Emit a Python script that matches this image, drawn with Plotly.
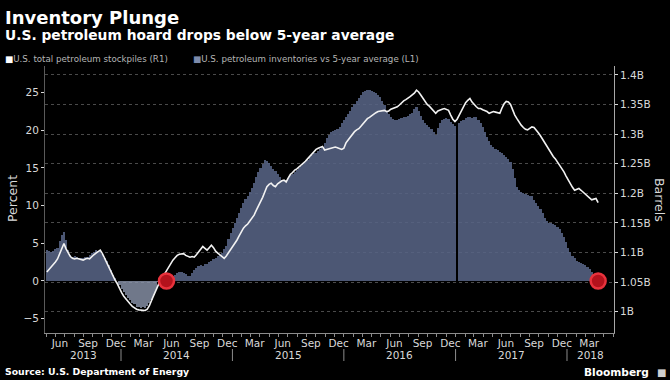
import pandas as pd
import plotly.graph_objects as go

# ---------------- data ----------------
week_start = "2013-05-03"  # first weekly observation (Fridays)

# U.S. petroleum inventories vs 5-year average, percent (left axis, bars)
inventory_vs_avg_pct = [
    4.1, 4.0, 3.9, 4.0, 4.2, 4.4, 5.3, 6.1, 6.5, 5.4,
    4.1, 3.5, 3.2, 3.3, 3.2, 3.1, 3.0, 3.1, 3.2, 3.2,
    3.5, 3.7, 3.9, 4.1, 4.0, 4.1, 3.6, 3.0, 2.6, 2.1,
    1.4, 0.8, 0.4, 0.0, -0.6, -1.1, -1.5, -1.9, -2.3, -2.5,
    -2.9, -3.1, -3.4, -3.5, -3.6, -3.5, -3.6, -3.3, -2.9, -2.5,
    -1.8, -1.2, -0.2, 0.1, 0.2, 0.3, 0.3, 0.4, 0.5, 0.7,
    0.8, 1.0, 1.2, 1.2, 1.1, 0.9, 0.7, 0.6, 1.0, 1.4,
    1.7, 2.0, 2.1, 2.0, 2.2, 2.3, 2.5, 2.7, 2.9, 3.1,
    3.3, 3.5, 3.7, 4.2, 4.7, 5.5, 6.3, 7.0, 7.7, 8.3,
    9.0, 9.7, 10.3, 10.9, 11.3, 11.8, 12.3, 13.0, 13.8, 14.4,
    15.0, 15.5, 16.0, 15.9, 15.6, 15.3, 14.9, 14.6, 14.2, 13.8,
    13.4, 13.3, 13.4, 13.7, 14.0, 14.2, 14.5, 14.7, 15.0, 15.3,
    15.6, 15.8, 16.1, 16.4, 16.7, 16.9, 17.0, 17.2, 17.5, 17.7,
    18.3, 18.9, 19.4, 19.8, 19.9, 20.0, 20.1, 20.4, 20.9, 21.3,
    21.8, 22.2, 22.6, 23.0, 23.4, 23.8, 24.2, 24.7, 25.1, 25.2,
    25.3, 25.3, 25.2, 25.1, 24.9, 24.7, 24.4, 23.9, 23.3, 22.6,
    22.1, 21.7, 21.5, 21.4, 21.4, 21.5, 21.6, 21.7, 21.8, 21.9,
    22.1, 22.3, 22.8, 23.0, 22.6, 21.9, 21.3, 21.0, 20.7, 20.4,
    20.1, 19.7, 19.4, 20.3, 21.0, 21.4, 21.5, 21.6, 21.5, 21.1,
    20.8, 20.5, 0.0, 20.9, 21.2, 21.4, 21.6, 21.8, 21.8, 21.6,
    21.7, 21.7, 21.4, 21.0, 20.4, 19.8, 19.1, 18.5, 18.0, 17.8,
    17.5, 17.3, 17.1, 16.9, 16.7, 16.5, 16.2, 15.8, 14.9, 13.6,
    12.5, 12.1, 11.8, 11.6, 11.5, 11.4, 11.3, 11.2, 10.8, 10.4,
    9.9, 9.5, 9.0, 8.4, 7.9, 7.7, 7.7, 7.6, 7.4, 7.2,
    6.9, 6.4, 5.8, 5.1, 4.4, 3.8, 3.3, 3.0, 2.7, 2.5,
    2.4, 2.3, 2.1, 1.9, 1.6, 1.2, 0.7, 0.2, -0.2,
]

# U.S. total petroleum stockpiles, billion barrels (right axis, line)
total_stockpiles_bn = [
    1.067, 1.071, 1.075, 1.079, 1.084, 1.089, 1.097, 1.104, 1.115, 1.106,
    1.098, 1.093, 1.090, 1.089, 1.090, 1.089, 1.088, 1.087, 1.089, 1.090,
    1.089, 1.093, 1.096, 1.099, 1.102, 1.104, 1.098, 1.090, 1.082, 1.074,
    1.066, 1.059, 1.053, 1.047, 1.038, 1.032, 1.026, 1.021, 1.017, 1.013,
    1.009, 1.006, 1.004, 1.003, 1.003, 1.002, 1.002, 1.004, 1.010, 1.019,
    1.028, 1.037, 1.046, 1.052, 1.057, 1.063, 1.070, 1.077, 1.082, 1.087,
    1.091, 1.095, 1.097, 1.098, 1.098, 1.095, 1.093, 1.092, 1.093, 1.092,
    1.096, 1.101, 1.105, 1.110, 1.107, 1.104, 1.108, 1.112, 1.108, 1.102,
    1.099, 1.096, 1.093, 1.090, 1.094, 1.099, 1.104, 1.109, 1.115, 1.121,
    1.128, 1.136, 1.141, 1.145, 1.148, 1.153, 1.158, 1.163, 1.171, 1.178,
    1.185, 1.193, 1.202, 1.211, 1.215, 1.217, 1.213, 1.211, 1.216, 1.219,
    1.221, 1.222, 1.219, 1.226, 1.232, 1.235, 1.239, 1.241, 1.244, 1.247,
    1.250, 1.254, 1.258, 1.262, 1.267, 1.271, 1.274, 1.276, 1.278, 1.279,
    1.273, 1.274, 1.276, 1.276, 1.277, 1.278, 1.277, 1.276, 1.274, 1.276,
    1.285, 1.290, 1.295, 1.300, 1.304, 1.307, 1.309, 1.313, 1.318, 1.322,
    1.326, 1.328, 1.331, 1.333, 1.336, 1.338, 1.339, 1.340, 1.340, 1.338,
    1.339, 1.342, 1.343, 1.344, 1.346, 1.349, 1.353, 1.356, 1.358, 1.360,
    1.363, 1.366, 1.369, 1.374, 1.371, 1.366, 1.360, 1.355, 1.350, 1.347,
    1.343, 1.340, 1.335, 1.339, 1.341, 1.342, 1.343, 1.342, 1.340, 1.332,
    1.325, 1.321, 1.325, 1.332, 1.340, 1.347, 1.353, 1.357, 1.360, 1.354,
    1.349, 1.346, 1.343, 1.343, 1.341, 1.340, 1.338, 1.335, 1.336, 1.338,
    1.337, 1.336, 1.335, 1.344, 1.351, 1.355, 1.354, 1.350, 1.340, 1.332,
    1.326, 1.320, 1.315, 1.311, 1.308, 1.307, 1.310, 1.312, 1.311, 1.307,
    1.302, 1.297, 1.291, 1.284, 1.278, 1.272, 1.267, 1.262, 1.258, 1.253,
    1.248, 1.242, 1.236, 1.229, 1.222, 1.215, 1.210, 1.205, 1.207, 1.208,
    1.205, 1.202, 1.199, 1.196, 1.192, 1.189, 1.190, 1.191, 1.184,
]

percent_ticks = [-5, 0, 5, 10, 15, 20, 25]
barrel_ticks = [1.0, 1.05, 1.1, 1.15, 1.2, 1.25, 1.3, 1.35, 1.4]
barrel_tick_labels = ["1B", "1.05B", "1.1B", "1.15B", "1.2B", "1.25B", "1.3B", "1.35B", "1.4B"]

month_tick_dates = [
    "2013-06-15", "2013-09-15", "2013-12-15",
    "2014-03-15", "2014-06-15", "2014-09-15", "2014-12-15",
    "2015-03-15", "2015-06-15", "2015-09-15", "2015-12-15",
    "2016-03-15", "2016-06-15", "2016-09-15", "2016-12-15",
    "2017-03-15", "2017-06-15", "2017-09-15", "2017-12-15",
    "2018-03-15",
]
month_tick_labels = [
    "Jun", "Sep", "Dec",
    "Mar", "Jun", "Sep", "Dec",
    "Mar", "Jun", "Sep", "Dec",
    "Mar", "Jun", "Sep", "Dec",
    "Mar", "Jun", "Sep", "Dec",
    "Mar",
]
year_labels = ["2013", "2014", "2015", "2016", "2017", "2018"]

highlight_dates = ["2014-05-30", "2018-04-13"]
highlight_levels = [0, 0]

# ---------------- figure ----------------
weeks = pd.date_range(week_start, periods=len(inventory_vs_avg_pct), freq="7D")
x_range = ["2013-04-27", "2018-06-04"]
FONT = "DejaVu Sans"
TXT = "#d9d9d9"

bar_colors = ["rgba(140,150,172,0.80)" if v < 0 else "rgba(86,99,132,0.88)"
              for v in inventory_vs_avg_pct]

fig = go.Figure()
fig.add_trace(go.Bar(
    x=weeks, y=inventory_vs_avg_pct, yaxis="y",
    marker=dict(color=bar_colors, line=dict(width=0)),
    width=7 * 24 * 3600 * 1000, name="U.S. petroleum inventories vs 5-year average (L1)",
))
fig.add_trace(go.Scatter(
    x=weeks, y=total_stockpiles_bn, yaxis="y2", mode="lines",
    line=dict(color="#f2f2f2", width=1.6),
    name="U.S. total petroleum stockpiles (R1)",
))
fig.add_trace(go.Scatter(
    x=highlight_dates, y=highlight_levels, yaxis="y3", mode="markers",
    marker=dict(size=15, color="#b3121c", line=dict(color="#e8323c", width=2.5)),
    hoverinfo="skip",
))

quarter_starts = pd.date_range("2013-06-01", "2018-03-01", freq="3MS")

fig.update_layout(
    width=670, height=380,
    paper_bgcolor="black", plot_bgcolor="black",
    margin=dict(l=45, r=56, t=66, b=47),
    showlegend=False, bargap=0,
    font=dict(family=FONT, color=TXT, size=10.5),
    xaxis=dict(
        type="date", range=x_range, automargin=False,
        tickvals=month_tick_dates, ticktext=month_tick_labels,
        tickfont=dict(size=10.5, color=TXT),
        ticks="", showgrid=False, zeroline=False,
        showline=True, linecolor="#8c8c8c", linewidth=1,
        minor=dict(dtick="M1", tick0="2013-05-01", ticks="outside",
                   ticklen=3, tickcolor="#8c8c8c", showgrid=False),
    ),
    xaxis2=dict(
        type="date", range=x_range, overlaying="x", anchor="y", automargin=False,
        tickvals=list(quarter_starts), showticklabels=False, ticks="",
        showgrid=True, gridcolor="#4a4a4a", griddash="dot", gridwidth=1,
        zeroline=False, showline=False,
    ),
    yaxis=dict(
        range=[-6.9, 28.5], tickvals=percent_ticks, automargin=False,
        tickfont=dict(size=10.5, color=TXT),
        ticks="outside", ticklen=3, tickcolor=TXT,
        showgrid=False, zeroline=False,
        showline=True, linecolor="#5a5a5a", linewidth=1,
    ),
    yaxis2=dict(
        overlaying="y", side="right", range=[0.9639, 1.4149], automargin=False,
        tickvals=barrel_ticks, ticktext=barrel_tick_labels,
        tickfont=dict(size=10.5, color=TXT),
        ticks="outside", ticklen=3, tickcolor=TXT,
        showgrid=True, gridcolor="#4a4a4a", griddash="dot", gridwidth=1,
        zeroline=False, showline=True, linecolor="#a8a8a8", linewidth=1,
    ),
    yaxis3=dict(overlaying="y", matches="y", visible=False),
)

def px_x(px):
    return (px - 45) / 569.0

def px_y(py):
    return (333 - py) / 267.0

ann = []
ann.append(dict(text="<b>Inventory Plunge</b>", x=px_x(3), y=px_y(17),
                xanchor="left", yanchor="middle",
                font=dict(family=FONT, size=18, color="white")))
ann.append(dict(text="<b>U.S. petroleum hoard drops below 5-year average</b>",
                x=px_x(3), y=px_y(35), xanchor="left", yanchor="middle",
                font=dict(family=FONT, size=13.8, color="white")))
ann.append(dict(text="<span style='color:#ffffff'>■</span>U.S. total petroleum stockpiles (R1)",
                x=px_x(3), y=px_y(59), xanchor="left", yanchor="middle",
                font=dict(family=FONT, size=8.7, color="#b5b5b5")))
ann.append(dict(text="<span style='color:#7d8bab'>■</span>U.S. petroleum inventories vs 5-year average (L1)",
                x=px_x(191), y=px_y(59), xanchor="left", yanchor="middle",
                font=dict(family=FONT, size=8.7, color="#b5b5b5")))
ann.append(dict(text="Percent", x=px_x(12), y=px_y(199), textangle=-90,
                xanchor="center", yanchor="middle",
                font=dict(family=FONT, size=12.5, color=TXT)))
ann.append(dict(text="Barrels", x=px_x(660), y=px_y(200), textangle=90,
                xanchor="center", yanchor="middle",
                font=dict(family=FONT, size=12.5, color=TXT)))
ann.append(dict(text="<b>Source: U.S. Department of Energy</b>",
                x=px_x(3), y=px_y(371), xanchor="left", yanchor="middle",
                font=dict(family=FONT, size=9.3, color="white")))
ann.append(dict(text="<b>Bloomberg</b>", x=px_x(651), y=px_y(372),
                xanchor="right", yanchor="middle",
                font=dict(family=FONT, size=10.6, color="white")))
ann.append(dict(text="■", x=px_x(661), y=px_y(372), xanchor="center", yanchor="middle",
                font=dict(family=FONT, size=10, color="#cfcfcf")))

r0, r1 = pd.Timestamp(x_range[0]), pd.Timestamp(x_range[1])
shapes = []
for lab in year_labels:
    ys = max(pd.Timestamp(f"{lab}-01-01"), r0)
    ye = min(pd.Timestamp(f"{int(lab) + 1}-01-01"), r1)
    mid = ys + (ye - ys) / 2
    ann.append(dict(text=lab, x=mid, xref="x", y=px_y(355), yref="paper",
                    xanchor="center", yanchor="middle", showarrow=False,
                    font=dict(family=FONT, size=10.5, color=TXT)))
    jan1 = pd.Timestamp(f"{lab}-01-01")
    if r0 < jan1 < r1:
        shapes.append(dict(type="line", xref="x", yref="paper", x0=jan1, x1=jan1,
                           y0=px_y(349), y1=px_y(361),
                           line=dict(color="#8c8c8c", width=1)))

for a in ann:
    a.setdefault("xref", "paper")
    a.setdefault("yref", "paper")
    a.setdefault("showarrow", False)

fig.update_layout(annotations=ann, shapes=shapes)
fig.write_html(
    "out.html",
    config={"displayModeBar": False},
    post_script="document.body.style.margin='0px';document.body.style.padding='0px';",
)
